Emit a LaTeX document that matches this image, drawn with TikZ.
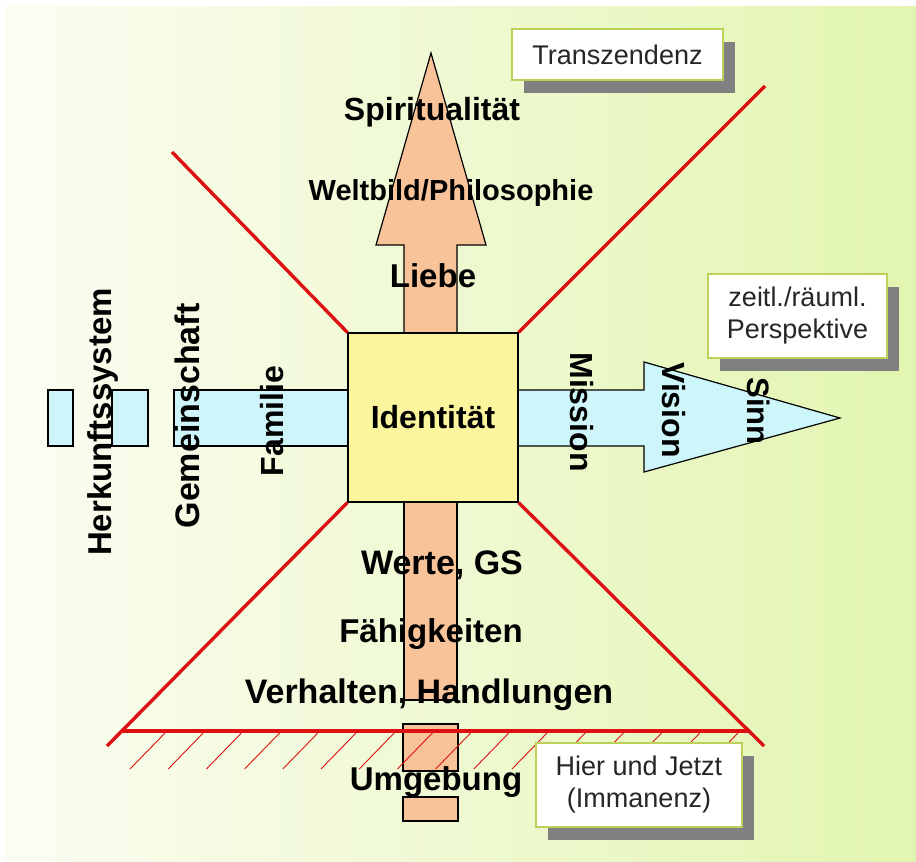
\documentclass[tikz,border=0pt]{standalone}
\usepackage{fontspec}
\setmainfont{Liberation Sans}
\usetikzlibrary{shadows}
\definecolor{bgL}{HTML}{FBFDF2}
\definecolor{bgR}{HTML}{E2F5B0}
\definecolor{peach}{HTML}{F9C39A}
\definecolor{sky}{HTML}{CDF5FA}
\definecolor{idy}{HTML}{FBF59E}
\definecolor{redl}{HTML}{DD1111}
\definecolor{boxb}{HTML}{BCD05A}
\definecolor{shad}{HTML}{808080}
\begin{document}
\begin{tikzpicture}[x=1pt,y=-1pt,
  outl/.style={draw=black, line width=1.2pt},
  redline/.style={draw=redl, line width=3.4pt},
  hatchline/.style={draw=redl, line width=0.9pt},
  note/.style={draw=boxb, line width=1.8pt, fill=white, text=black!85, align=center, inner sep=0pt,
     font=\fontsize{27}{32}\selectfont,
     drop shadow={shadow xshift=12pt, shadow yshift=-13pt, fill=shad, opacity=1}},
  lbl/.style={inner sep=0pt, anchor=base, text=black},
]
\useasboundingbox (0,0) rectangle (916,862);
\fill[white] (0,0) rectangle (916,862);
\shade[left color=bgL, right color=bgR] (6,6) rectangle (916,862);

% left band pieces
\draw[outl, fill=sky] (48,390) rectangle (73,446);
\draw[outl, fill=sky] (112,390) rectangle (148,446);
\draw[outl, fill=sky] (174,390) rectangle (349,446);

% right arrow
\coordinate (rtip) at (840,418);
\draw[outl, fill=sky] (517,390) -- (644,390) -- (644,362) -- (rtip) -- (644,472) -- (644,446) -- (517,446) -- cycle;

% up arrow
\coordinate (utip) at (431,53);
\draw[outl, fill=peach] (404,334) -- (404,245) -- (376,245) -- (utip) -- (486,245) -- (457,245) -- (457,334) -- cycle;

% down shaft
\draw[outl, fill=peach] (404,501) rectangle (457,700);
\draw[outl, fill=peach] (403,724) rectangle (458,771);
\draw[outl, fill=peach] (403,797) rectangle (458,821);

% identity box
\node[outl, fill=idy, minimum width=170pt, minimum height=169pt, inner sep=0pt,
      font=\bfseries\fontsize{32}{38}\selectfont] (id) at (433,417.5) {Identität};

% red lines
\coordinate (ul) at (172,152);
\coordinate (ur) at (765,86);
\coordinate (ll) at (107,746);
\coordinate (lr) at (764,746);
\coordinate (hl) at (122,731);
\coordinate (hr) at (748,731);
\draw[redline] (id.north west) -- (ul);
\draw[redline] (id.north east) -- (ur);
\draw[redline] (id.south west) -- (ll);
\draw[redline] (id.south east) -- (lr);
\draw[redline] (hl) -- (hr);
\foreach \k in {0,...,15}
  \draw[hatchline] ({130+38.2*\k},769) -- ({165+38.2*\k},733);

% note boxes
\node[note, minimum width=211pt, minimum height=51pt] (trans) at (617.5,54.5) {Transzendenz};
\node[note, minimum width=179pt, minimum height=84pt] (persp) at (797.5,316) {zeitl./räuml.\\Perspektive};
\node[note, minimum width=206pt, minimum height=84pt] (hier) at (639,785) {Hier und Jetzt\\(Immanenz)};

% labels
\node[lbl, font=\bfseries\fontsize{32}{38}\selectfont] (spir) at (432,120) {Spiritualität};
\node[lbl, font=\bfseries\fontsize{29}{35}\selectfont] (welt) at (451,200) {Weltbild/Philosophie};
\node[lbl, font=\bfseries\fontsize{33}{38}\selectfont] (liebe) at (433,287) {Liebe};
\node[lbl, font=\bfseries\fontsize{34}{40}\selectfont] (werte) at (442,574) {Werte, GS};
\node[lbl, font=\bfseries\fontsize{33}{38}\selectfont] (faeh) at (431,642) {Fähigkeiten};
\node[lbl, font=\bfseries\fontsize{34}{40}\selectfont] (verh) at (429,703) {Verhalten, Handlungen};
\node[lbl, font=\bfseries\fontsize{33}{38}\selectfont] (umg) at (436,790) {Umgebung};
\node[lbl, rotate=90, font=\bfseries\fontsize{33}{38}\selectfont] (herk) at (111,422) {Herkunftssystem};
\node[lbl, rotate=90, font=\bfseries\fontsize{34}{40}\selectfont] (gem) at (199,416) {Gemeinschaft};
\node[lbl, rotate=90, font=\bfseries\fontsize{32}{38}\selectfont] (fam) at (283,421) {Familie};
\node[lbl, rotate=-90, font=\bfseries\fontsize{32}{38}\selectfont] (miss) at (570,412) {Mission};
\node[lbl, rotate=-90, font=\bfseries\fontsize{32}{38}\selectfont] (vis) at (662,410) {Vision};
\node[lbl, rotate=-90, font=\bfseries\fontsize{31}{37}\selectfont] (sinn) at (747,411) {Sinn};
\end{tikzpicture}
\end{document}
